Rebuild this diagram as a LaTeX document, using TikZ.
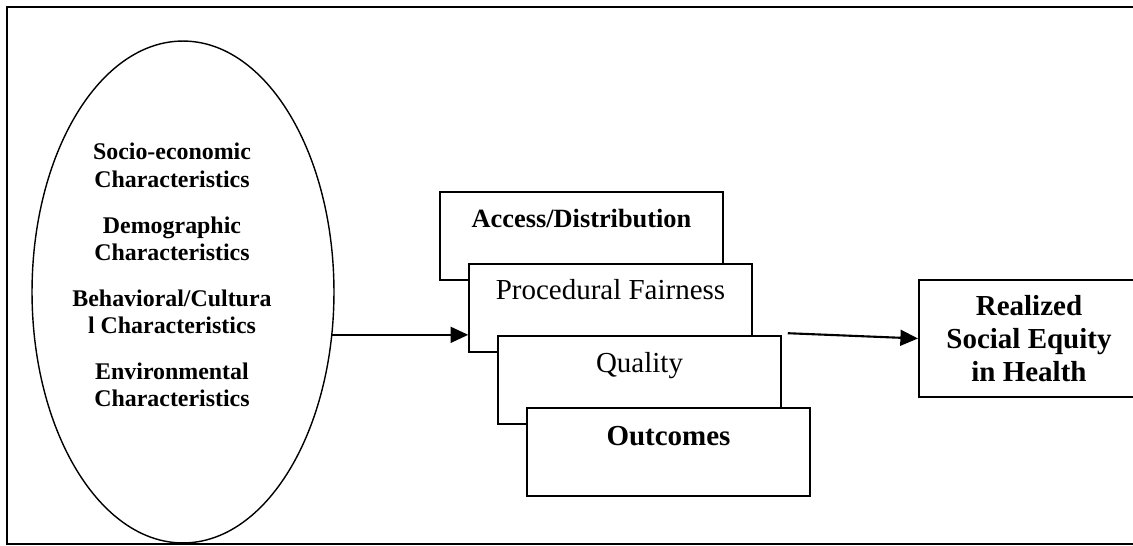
\documentclass[tikz,border=0pt]{standalone}
\usepackage{fontspec}
\setmainfont{Liberation Serif}
\usetikzlibrary{shapes.geometric,arrows.meta}
\tikzset{
  card/.style={draw, fill=white, line width=0.9pt, minimum width=5.66cm, minimum height=1.76cm, inner sep=0pt},
  cardtext/.style={anchor=base, inner sep=0pt, font=\fontsize{16.5}{19}\selectfont},
  flow/.style={line width=1.2pt, -{Triangle[length=10pt,width=9pt]}},
}
\begin{document}
\begin{tikzpicture}[x=0.02cm, y=-0.02cm]
  \useasboundingbox (0,0) rectangle (1133,546);
  \draw[line width=1.5pt] (7,7) rectangle (1160,544);
  % determinants
  \node[draw, ellipse, line width=0.8pt, minimum width=6.04cm, minimum height=10.04cm, inner sep=0pt] at (183,292) (factors) {};
  \node[anchor=north, inner sep=0pt, align=center, font=\fontsize{13.6}{15.8}\selectfont\bfseries] at (172,143) (factorlist)
    {Socio-economic\\Characteristics\\[10pt]Demographic\\Characteristics\\[10pt]Behavioral/Cultura\\l Characteristics\\[10pt]Environmental\\Characteristics};
  % stacked dimensions
  \node[card] at (581.5,236) (access) {};
  \node[cardtext, font=\fontsize{15}{18}\selectfont\bfseries] at ([yshift=-0.72cm]access.north) (accesstext) {Access/Distribution};
  \node[card] at ([shift={(29,72)}]access.center) (pfair) {};
  \node[cardtext] at ([yshift=-0.72cm]pfair.north) (pfairtext) {Procedural Fairness};
  \node[card] at ([shift={(29,72)}]pfair.center) (quality) {};
  \node[cardtext] at ([yshift=-0.74cm]quality.north) (qualitytext) {Quality};
  \node[card] at ([shift={(29,72)}]quality.center) (outcomes) {};
  \node[cardtext, font=\fontsize{16.5}{19}\selectfont\bfseries] at ([yshift=-0.76cm]outcomes.north) (outcomestext) {Outcomes};
  % result
  \node[draw, line width=1.2pt, minimum width=4.4cm, minimum height=2.34cm, align=center, font=\fontsize{16.5}{19}\selectfont\bfseries] at (1029,338.5) (equity) {Realized\\Social Equity\\in Health};
  \draw[flow] (factors.344) -- (factors.344 -| pfair.west);
  \coordinate (qout) at ([shift={(6,-2)}]quality.north east);
  \draw[flow] (qout) -- (equity.west);
\end{tikzpicture}
\end{document}
